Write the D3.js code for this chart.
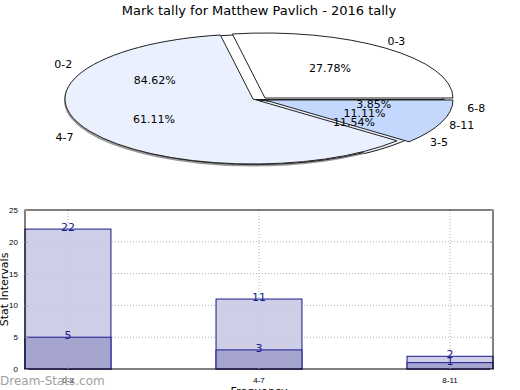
<!DOCTYPE html>
<html>
<head>
<meta charset="utf-8">
<script src="https://cdn.jsdelivr.net/npm/d3@7"></script>
<style>
  body { margin: 0; background: #fff; }
  svg { font-family: "DejaVu Sans", sans-serif; display: block; }
  .grid line { stroke: #b0b0b0; stroke-dasharray: 1,2; }
  .tick text { font-size: 8px; }
</style>
</head>
<body>
<div id="chart"></div>
<script>
// chart data
const chart_title = 'Mark tally for Matthew Pavlich - 2016 tally';
const categories = ['0-3', '4-7', '8-11'];
const tally_values = [22, 11, 2];
const low_values = [5, 3, 1];
const pie1_labels = ['0-3', '4-7', '8-11'];
const pie1_values = [5, 11, 2];
const pie2_labels = ['0-2', '3-5', '6-8'];
const pie2_values = [22, 3, 1];
const y_ticks = [0, 5, 10, 15, 20, 25];

const width = 520, height = 390;

const svg = d3.select('#chart').append('svg')
    .attr('width', width)
    .attr('height', height);

svg.append('text')
    .attr('x', 259).attr('y', 15)
    .attr('text-anchor', 'middle')
    .attr('font-size', 13)
    .text(chart_title);

// ---------- pie (flattened, two layers) ----------
const rx = 188, ry = 65;
const pieColors = ['#ffffff', '#eaf0fd', '#c4d8fd'];

// angles start at 3 o'clock and go counter-clockwise
const pie = d3.pie().sort(null).startAngle(Math.PI / 2).endAngle(Math.PI / 2 - 2 * Math.PI);
const arc = d3.arc().innerRadius(0).outerRadius(rx);

const arcs1 = pie(pie1_values);
const arcs2 = pie(pie2_values);

function ellipsePt(cx, cy, a, f) {
  return [cx + f * rx * Math.sin(a), cy - f * ry * Math.cos(a)];
}

function drawSlice(d, cx, cy, fill, stroke) {
  svg.append('path')
      .attr('d', arc(d))
      .attr('transform', `translate(${cx},${cy}) scale(1,${ry / rx})`)
      .attr('fill', fill)
      .attr('stroke', stroke)
      .attr('stroke-width', 1)
      .attr('vector-effect', 'non-scaling-stroke');
}

// shadow under everything
arcs2.forEach(d => {
  svg.append('path')
      .attr('d', arc(d))
      .attr('transform', `translate(253,100.5) scale(1,${ry / rx})`)
      .attr('fill', '#aaa')
      .attr('stroke', '#999')
      .attr('stroke-width', 2)
      .attr('vector-effect', 'non-scaling-stroke');
});

// second series pie, underneath
const pie2Centers = [[255, 99.5], [258, 100], [258, 100]];
arcs2.forEach((d, i) => drawSlice(d, pie2Centers[i][0], pie2Centers[i][1], pieColors[i], '#222'));

// first series pie on top, slightly offset slices
const pie1Centers = [[265, 98], [253, 99], [265, 100]];
arcs1.forEach((d, i) => drawSlice(d, pie1Centers[i][0], pie1Centers[i][1], pieColors[i], '#222'));

function pct(v, arr) { return (v / d3.sum(arr) * 100).toFixed(2) + '%'; }

function sliceLabels(arcsIn, values, labels, cx, cy) {
  arcsIn.forEach((d, i) => {
    const a = (d.startAngle + d.endAngle) / 2;
    const pIn = ellipsePt(cx, cy, a, 0.62);
    const pOut = ellipsePt(cx, cy, a, 1.17);
    svg.append('text')
        .attr('x', pIn[0]).attr('y', pIn[1] + 4)
        .attr('text-anchor', 'middle')
        .attr('font-size', 11)
        .text(pct(values[i], values));
    svg.append('text')
        .attr('x', pOut[0]).attr('y', pOut[1] + 4)
        .attr('text-anchor', 'middle')
        .attr('font-size', 11)
        .text(labels[i]);
  });
}
sliceLabels(arcs2, pie2_values, pie2_labels, 258, 99);
sliceLabels(arcs1, pie1_values, pie1_labels, 255, 99);

// ---------- bar chart ----------
const plot = {left: 25, right: 493, top: 210, bottom: 369};

const x = d3.scaleBand()
    .domain(categories)
    .range([plot.left, plot.right])
    .paddingInner(0.55)
    .paddingOuter(0);

const y = d3.scaleLinear()
    .domain([0, 25])
    .range([plot.bottom, plot.top]);

// grid
const grid = svg.append('g').attr('class', 'grid');
grid.selectAll('.hg').data(y_ticks.slice(1, -1)).join('line')
    .attr('x1', plot.left).attr('x2', plot.right)
    .attr('y1', d => y(d)).attr('y2', d => y(d));
grid.selectAll('.vg').data(categories).join('line')
    .attr('x1', d => x(d) + x.bandwidth() / 2).attr('x2', d => x(d) + x.bandwidth() / 2)
    .attr('y1', plot.top).attr('y2', plot.bottom);

// bars: light series behind, darker one in front
const barStroke = '#1a1a8c';
svg.selectAll('.bar-hi').data(tally_values).join('rect')
    .attr('x', (d, i) => x(categories[i]))
    .attr('y', d => y(d))
    .attr('width', x.bandwidth())
    .attr('height', d => y(0) - y(d))
    .attr('fill', '#cbcbe5')
    .attr('fill-opacity', 0.95)
    .attr('stroke', barStroke);

svg.selectAll('.bar-lo').data(low_values).join('rect')
    .attr('x', (d, i) => x(categories[i]))
    .attr('y', d => y(d))
    .attr('width', x.bandwidth())
    .attr('height', d => y(0) - y(d))
    .attr('fill', '#a2a2cf')
    .attr('fill-opacity', 0.95)
    .attr('stroke', barStroke);

// value labels
[tally_values, low_values].forEach(vals => {
  svg.selectAll(null).data(vals).join('text')
      .attr('x', (d, i) => x(categories[i]) + x.bandwidth() / 2)
      .attr('y', d => y(d) + 2)
      .attr('text-anchor', 'middle')
      .attr('font-size', 11)
      .attr('fill', barStroke)
      .text(d => d);
});

// frame
svg.append('rect')
    .attr('x', plot.left).attr('y', plot.top)
    .attr('width', plot.right - plot.left).attr('height', plot.bottom - plot.top)
    .attr('fill', 'none')
    .attr('stroke', '#000');

// axes (small grey ticks inside the frame)
svg.append('g')
    .attr('transform', `translate(${plot.left},0)`)
    .call(d3.axisLeft(y).tickValues(y_ticks).tickSize(-3).tickPadding(7))
    .call(g => g.select('.domain').remove())
    .call(g => g.selectAll('.tick line').attr('stroke', '#999'));

svg.append('g')
    .attr('transform', `translate(${plot.right},0)`)
    .call(d3.axisRight(y).tickValues(y_ticks).tickSize(-3).tickFormat(''))
    .call(g => g.select('.domain').remove())
    .call(g => g.selectAll('.tick line').attr('stroke', '#999'));

svg.append('g')
    .attr('transform', `translate(0,${plot.bottom})`)
    .call(d3.axisBottom(x).tickSize(-3).tickPadding(8))
    .call(g => g.select('.domain').remove())
    .call(g => g.selectAll('.tick line').attr('stroke', '#999'));

// axis labels
svg.append('text')
    .attr('text-anchor', 'middle')
    .attr('transform', `translate(8,${(plot.top + plot.bottom) / 2}) rotate(-90)`)
    .attr('font-size', 11)
    .text('Stat Intervals');

svg.append('text')
    .attr('x', 259).attr('y', 395)
    .attr('text-anchor', 'middle')
    .attr('font-size', 11)
    .text('Frequency');

// watermark
svg.append('text')
    .attr('x', 0).attr('y', 385)
    .attr('font-size', 12)
    .attr('fill', '#a0a0a0')
    .text('Dream-Stats.com');
</script>
</body>
</html>
